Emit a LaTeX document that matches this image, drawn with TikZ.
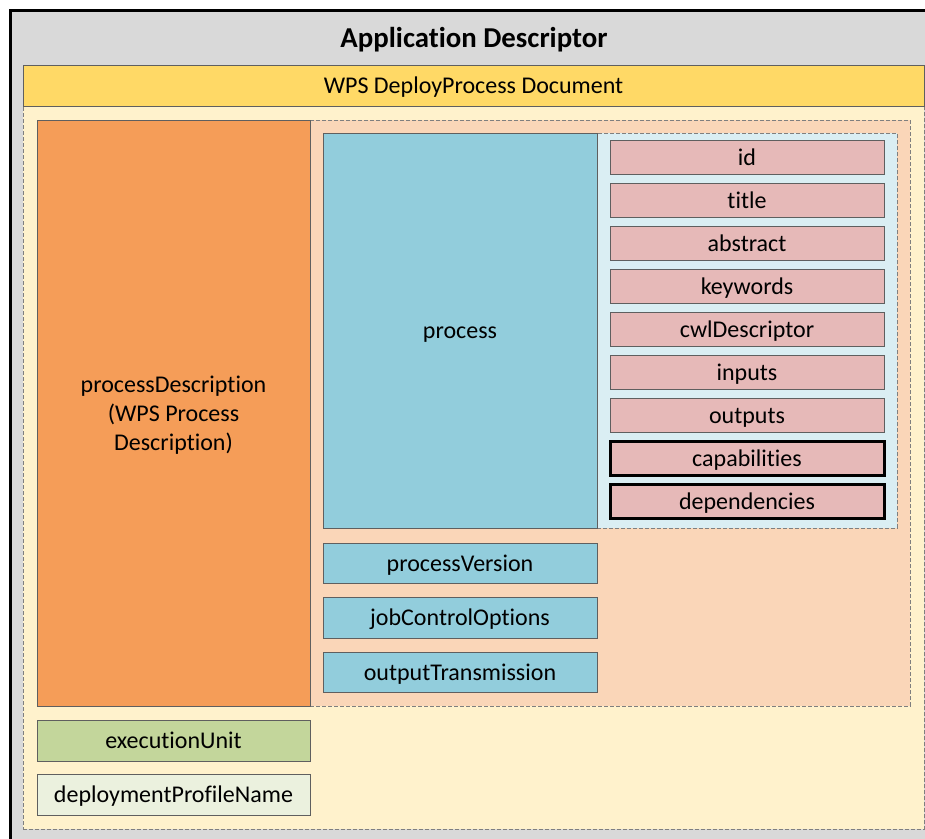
\documentclass[tikz,border=0pt]{standalone}
\usepackage{fontspec}
\setmainfont{Carlito}[Ligatures=NoCommon]
\definecolor{outerfill}{HTML}{D9D9D9}
\definecolor{hdrfill}{HTML}{FFD966}
\definecolor{bodyfill}{HTML}{FFF2CC}
\definecolor{orangefill}{HTML}{F59D58}
\definecolor{peachfill}{HTML}{FAD6B8}
\definecolor{bluefill}{HTML}{92CDDC}
\definecolor{lbluefill}{HTML}{DAEEF3}
\definecolor{pinkfill}{HTML}{E6B9B8}
\definecolor{greenfill}{HTML}{C3D69B}
\definecolor{pgreenfill}{HTML}{EBF1DE}
\definecolor{boxline}{HTML}{5F5F5F}
\definecolor{dashline}{HTML}{7F7F7F}
\begin{document}
\begin{tikzpicture}[x=1pt,y=-1pt,
  box/.style={draw=boxline, line width=0.9pt, inner sep=0pt, rectangle,
    font=\fontsize{24}{29}\selectfont, align=center},
  oneline/.style={box, text height=16pt, text depth=0pt},
  dashbox/.style={draw=dashline, line width=0.9pt, dash pattern=on 4pt off 2pt, inner sep=0pt, rectangle},
  pinkbox/.style={oneline, fill=pinkfill, minimum width=274pt, minimum height=34pt},
  thickpink/.style={pinkbox, draw=black, line width=3pt},
  bluebox/.style={oneline, fill=bluefill, minimum width=274pt, minimum height=40pt},
  greenbox/.style={oneline, minimum width=273pt, minimum height=41pt}]
\useasboundingbox (0,0) rectangle (925,838);
\clip (0,0) rectangle (925,838);
% outer container
\node[draw=black, line width=3pt, fill=outerfill, inner sep=0pt, minimum width=935pt, minimum height=845pt] (outer) at (477.5,432.5) {};
\node[font=\fontsize{28.8}{34}\selectfont\bfseries, inner sep=0pt, text height=19pt, text depth=0pt] (title) at (474,38) {Application Descriptor};
% body of WPS document
\node[dashbox, fill=bodyfill, minimum width=901pt, minimum height=723pt] (body) at (473.5,467.5) {};
\node[oneline, fill=hdrfill, minimum width=901pt, minimum height=41pt] (hdr) at (473.5,85.5) {WPS DeployProcess Document};
% process offering region
\node[dashbox, fill=peachfill, minimum width=600pt, minimum height=586pt] (peach) at (610,413) {};
\node[box, fill=orangefill, minimum width=273pt, minimum height=586pt, text depth=0pt] (pdesc) at (173.5,413) {processDescription\\(WPS Process\\Description)};
\node[dashbox, fill=lbluefill, minimum width=300pt, minimum height=395pt] (lblue) at (747,330.5) {};
\node[oneline, fill=bluefill, minimum width=274pt, minimum height=395pt] (process) at (460,330.5) {process};
% process fields
\node[pinkbox] (id) at (747,157) {id};
\node[pinkbox] (ttl) at (747,200) {title};
\node[pinkbox] (abs) at (747,243) {abstract};
\node[pinkbox] (kw) at (747,286) {keywords};
\node[pinkbox] (cwl) at (747,329) {cwlDescriptor};
\node[pinkbox] (inp) at (747,372) {inputs};
\node[pinkbox] (outp) at (747,415) {outputs};
\node[thickpink] (cap) at (747,458.5) {capabilities};
\node[thickpink] (dep) at (747,501.5) {dependencies};
% other process items
\node[bluebox] (pver) at (460,563) {processVersion};
\node[bluebox, minimum height=41pt] (jco) at (460,617.5) {jobControlOptions};
\node[bluebox] (otr) at (460,672) {outputTransmission};
% execution unit
\node[greenbox, fill=greenfill] (exec) at (173.5,740.5) {executionUnit};
\node[greenbox, fill=pgreenfill] (dpn) at (173.5,794.5) {deploymentProfileName};
\end{tikzpicture}
\end{document}
